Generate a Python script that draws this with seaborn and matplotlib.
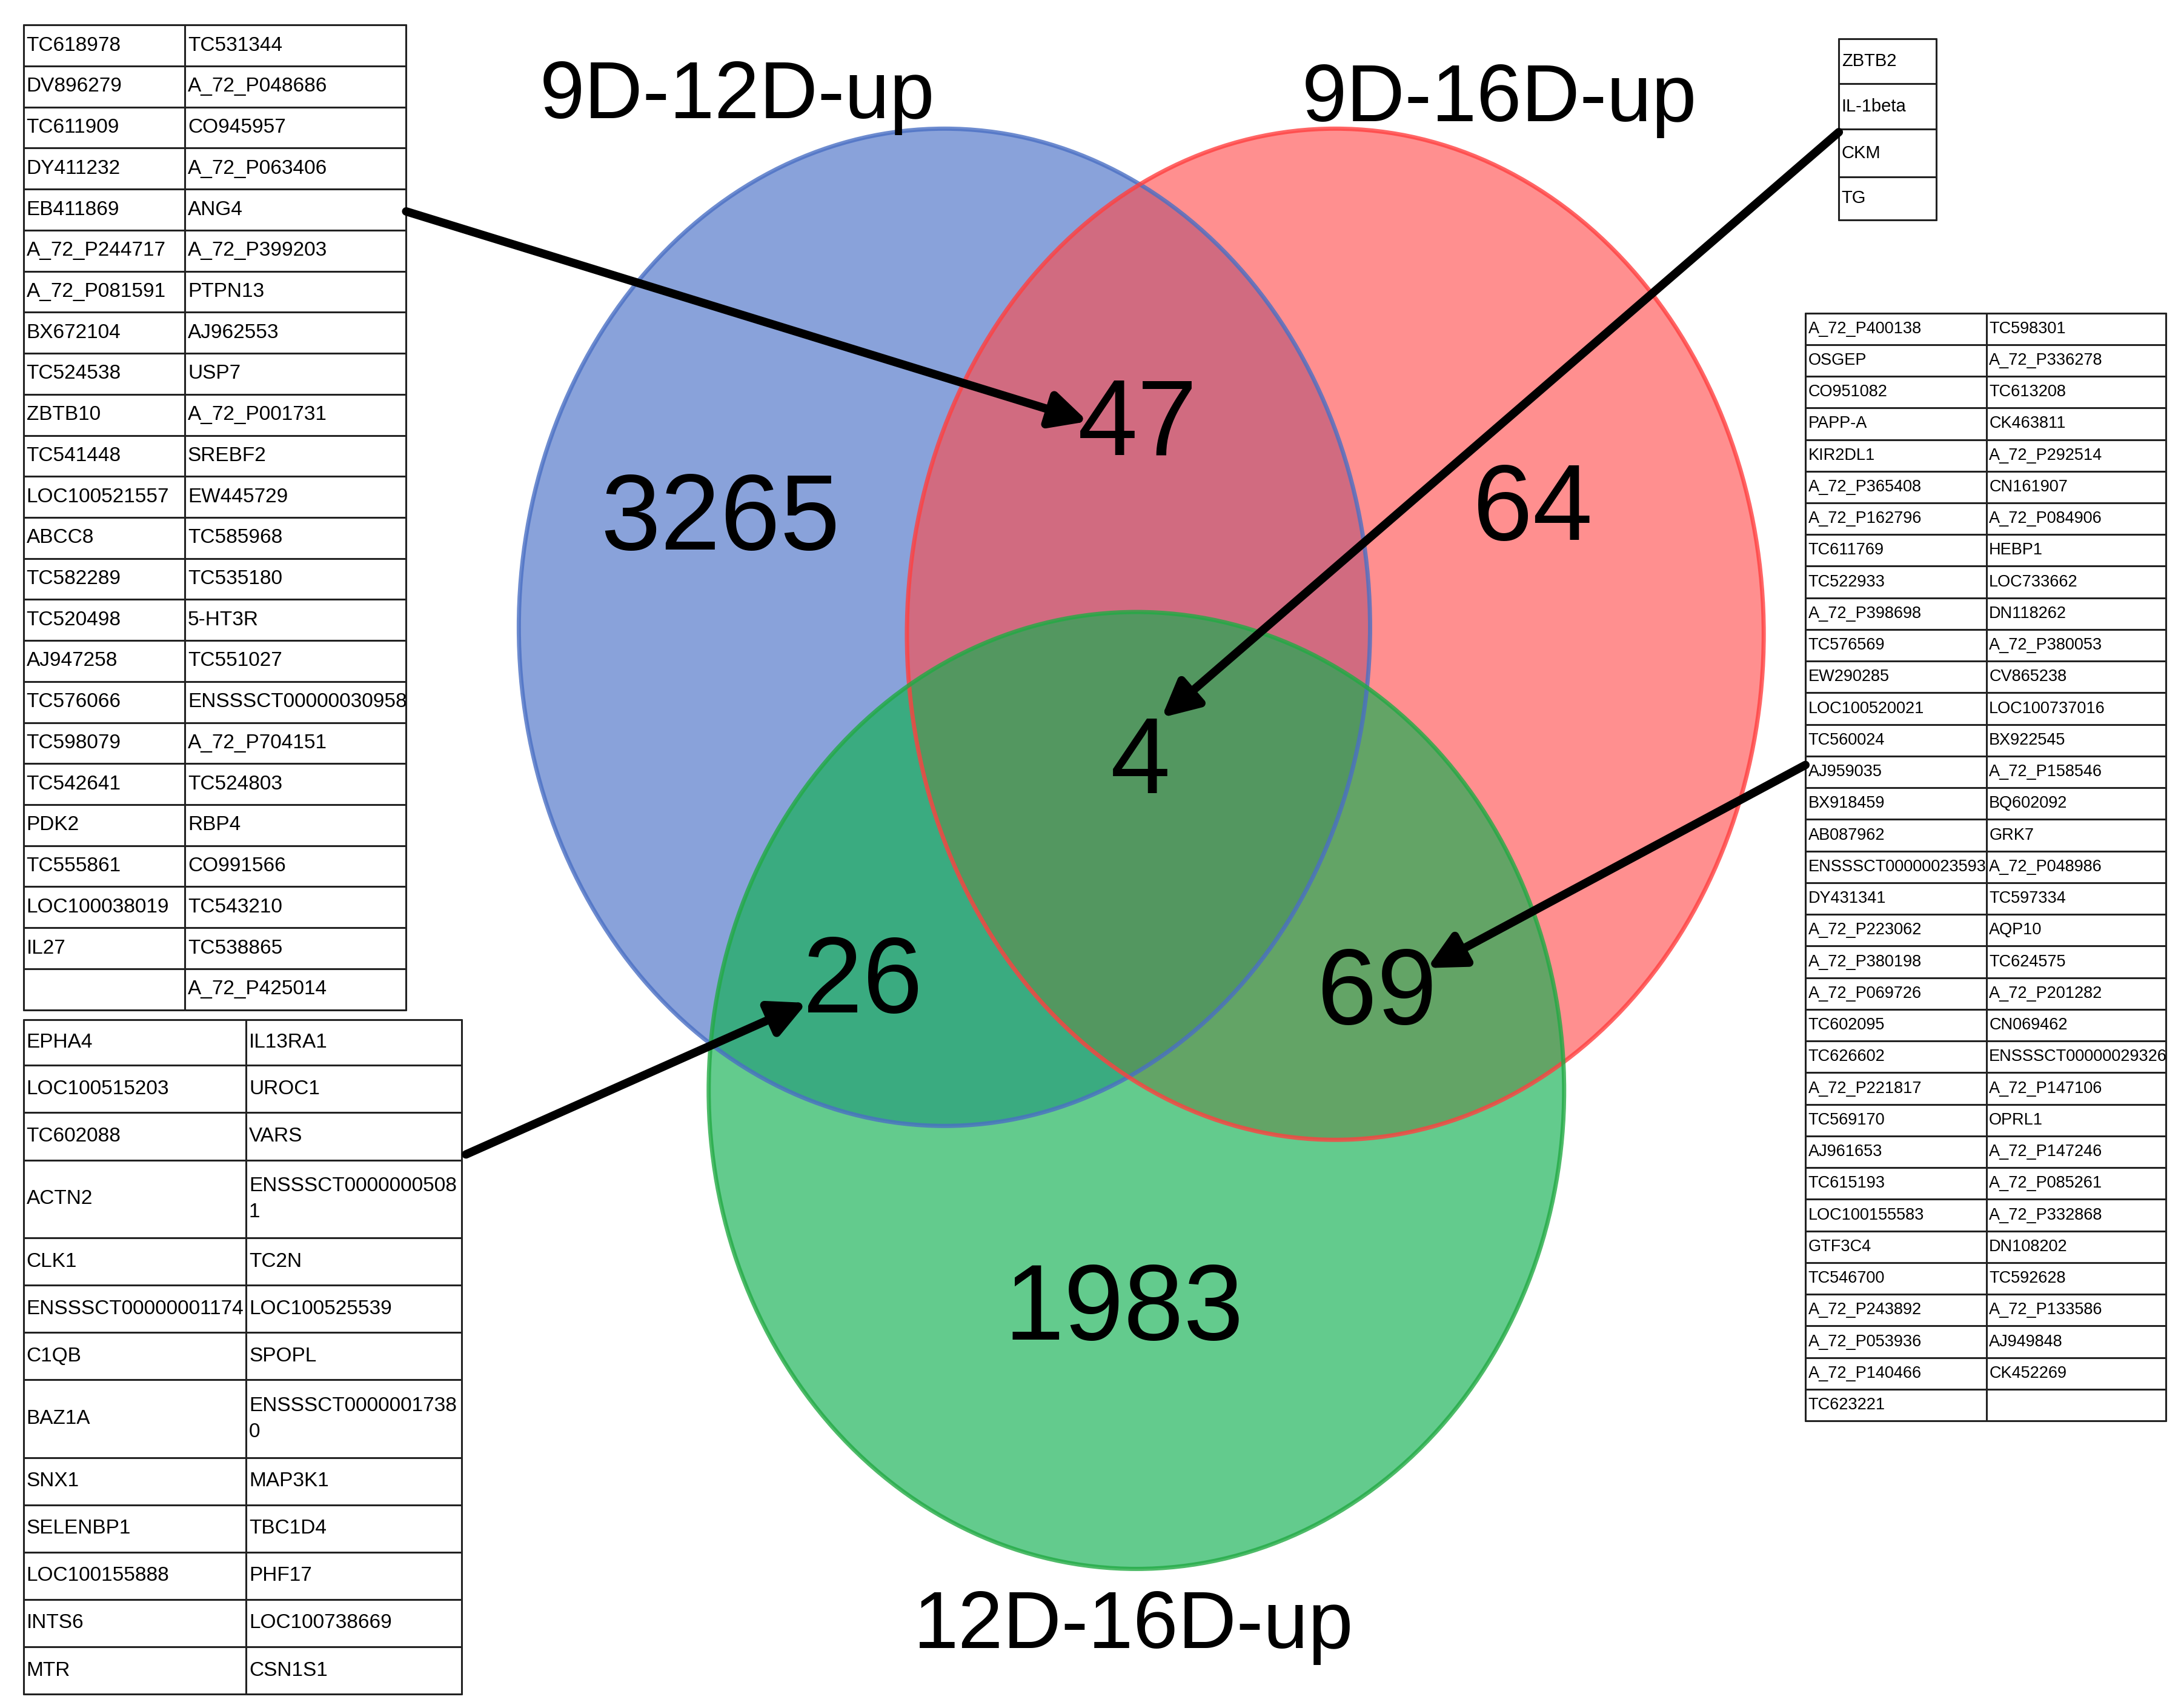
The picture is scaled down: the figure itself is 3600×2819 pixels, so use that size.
import matplotlib
matplotlib.use('Agg')
import matplotlib.pyplot as plt
from matplotlib.patches import Ellipse
import seaborn as sns

sns.set_style('white')
plt.rcParams['font.family'] = ['Liberation Sans', 'DejaVu Sans']
plt.rcParams['text.color'] = 'black'

# ---- data ----
set_names = ['9D-12D-up', '9D-16D-up', '12D-16D-up']
region_labels = ['only_12', 'only_16a', 'only_16b', '12_16a', '12_16b', '16a_16b', 'all']
region_counts = [3265, 64, 1983, 47, 26, 69, 4]

table_47_left = ['TC618978', 'DV896279', 'TC611909', 'DY411232', 'EB411869', 'A_72_P244717',
                 'A_72_P081591', 'BX672104', 'TC524538', 'ZBTB10', 'TC541448', 'LOC100521557',
                 'ABCC8', 'TC582289', 'TC520498', 'AJ947258', 'TC576066', 'TC598079', 'TC542641',
                 'PDK2', 'TC555861', 'LOC100038019', 'IL27', '']
table_47_right = ['TC531344', 'A_72_P048686', 'CO945957', 'A_72_P063406', 'ANG4', 'A_72_P399203',
                  'PTPN13', 'AJ962553', 'USP7', 'A_72_P001731', 'SREBF2', 'EW445729', 'TC585968',
                  'TC535180', '5-HT3R', 'TC551027', 'ENSSSCT00000030958', 'A_72_P704151',
                  'TC524803', 'RBP4', 'CO991566', 'TC543210', 'TC538865', 'A_72_P425014']

table_26_left = ['EPHA4', 'LOC100515203', 'TC602088', 'ACTN2', 'CLK1', 'ENSSSCT00000001174',
                 'C1QB', 'BAZ1A', 'SNX1', 'SELENBP1', 'LOC100155888', 'INTS6', 'MTR']
table_26_right = ['IL13RA1', 'UROC1', 'VARS', 'ENSSSCT0000000508\n1', 'TC2N', 'LOC100525539',
                  'SPOPL', 'ENSSSCT0000001738\n0', 'MAP3K1', 'TBC1D4', 'PHF17', 'LOC100738669',
                  'CSN1S1']

table_4 = ['ZBTB2', 'IL-1beta', 'CKM', 'TG']

table_69_left = ['A_72_P400138', 'OSGEP', 'CO951082', 'PAPP-A', 'KIR2DL1', 'A_72_P365408',
                 'A_72_P162796', 'TC611769', 'TC522933', 'A_72_P398698', 'TC576569', 'EW290285',
                 'LOC100520021', 'TC560024', 'AJ959035', 'BX918459', 'AB087962',
                 'ENSSSCT00000023593', 'DY431341', 'A_72_P223062', 'A_72_P380198',
                 'A_72_P069726', 'TC602095', 'TC626602', 'A_72_P221817', 'TC569170', 'AJ961653',
                 'TC615193', 'LOC100155583', 'GTF3C4', 'TC546700', 'A_72_P243892',
                 'A_72_P053936', 'A_72_P140466', 'TC623221']
table_69_right = ['TC598301', 'A_72_P336278', 'TC613208', 'CK463811', 'A_72_P292514',
                  'CN161907', 'A_72_P084906', 'HEBP1', 'LOC733662', 'DN118262', 'A_72_P380053',
                  'CV865238', 'LOC100737016', 'BX922545', 'A_72_P158546', 'BQ602092', 'GRK7',
                  'A_72_P048986', 'TC597334', 'AQP10', 'TC624575', 'A_72_P201282', 'CN069462',
                  'ENSSSCT00000029326', 'A_72_P147106', 'OPRL1', 'A_72_P147246', 'A_72_P085261',
                  'A_72_P332868', 'DN108202', 'TC592628', 'A_72_P133586', 'AJ949848',
                  'CK452269', '']

# ---- figure ----
fig = plt.figure(figsize=(36, 28.19), dpi=100)
ax = fig.add_axes([0, 0, 1, 1])
ax.set_xlim(0, 1568)
ax.set_ylim(1228, 0)
ax.axis('off')

circles = [((679, 451), 612, 717, '#4169c4', '#4a6fc4', 0.62),
           ((960, 456), 616, 727, '#ff4a4a', '#ff4040', 0.62),
           ((817, 784), 615, 688, '#10b050', '#22aa44', 0.65)]
for (c, w, h, fc, ec, a) in circles:
    ax.add_patch(Ellipse(c, w, h, facecolor=fc, alpha=a, edgecolor='none', zorder=1))
for (c, w, h, fc, ec, a) in circles:
    ax.add_patch(Ellipse(c, w, h, facecolor='none', edgecolor=ec, lw=5, alpha=0.8, zorder=2))

for name, pos in zip(set_names, [(530, 70), (1078, 72), (815, 1170)]):
    ax.text(pos[0], pos[1], name, fontsize=96, ha='center', va='center', zorder=5)

count_pos = [(518, 375), (1102, 368), (808, 943), (818, 307), (620, 708), (990, 716), (820, 550)]
for n, p in zip(region_counts, count_pos):
    ax.text(p[0], p[1], str(n), fontsize=128, ha='center', va='center', zorder=5)


def draw_table(lefts, rights, x0, xs, x1, row_edges, fs):
    kw = dict(color='#222222', lw=2.2, zorder=4)
    for y in row_edges:
        ax.plot([x0, x1], [y, y], **kw)
    cols = [x0, xs, x1] if rights is not None else [x0, x1]
    for x in cols:
        ax.plot([x, x], [row_edges[0], row_edges[-1]], **kw)
    for i, l in enumerate(lefts):
        yc = (row_edges[i] + row_edges[i + 1]) / 2
        ax.text(x0 + 2, yc, l, fontsize=fs, ha='left', va='center', zorder=5)
        if rights is not None and rights[i]:
            ax.text(xs + 2, yc, rights[i], fontsize=fs, ha='left',
                    va='center', linespacing=1.5, zorder=5)


edges1 = [18 + 29.5 * i for i in range(len(table_47_left) + 1)]
draw_table(table_47_left, table_47_right, 17, 133, 292, edges1, 24)

edges2 = [733, 766, 800, 834, 890, 924, 958, 992, 1048, 1082, 1116, 1150, 1184, 1218]
draw_table(table_26_left, table_26_right, 17, 177, 332, edges2, 24)

edges3 = [28, 60, 93, 127, 158]
draw_table(table_4, None, 1322, None, 1392, edges3, 21)

edges4 = [225 + 22.76 * i for i in range(len(table_69_left) + 1)]
draw_table(table_69_left, table_69_right, 1298, 1428, 1557, edges4, 19.5)

arrows = [((292, 152), (782, 303)), ((1322, 95), (835, 516)),
          ((335, 830), (580, 721)), ((1298, 550), (1026, 696))]
for start, end in arrows:
    ax.annotate('', xy=end, xytext=start, zorder=6,
                arrowprops=dict(arrowstyle='-|>', color='black', lw=10,
                                mutation_scale=90, shrinkA=0, shrinkB=0))

fig.savefig('out.png', dpi=100)
